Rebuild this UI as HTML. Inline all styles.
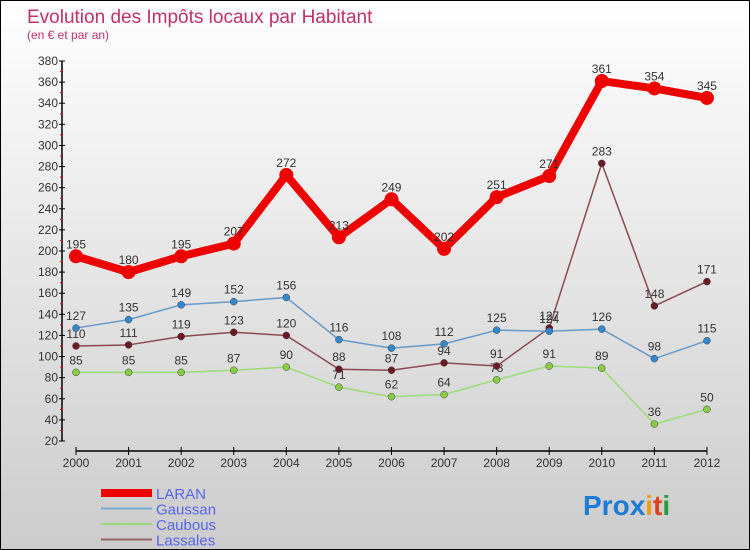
<!DOCTYPE html>
<html><head><meta charset="utf-8"><style>
body{margin:0}
#c{width:748px;height:548px;border:1px solid #000;background:linear-gradient(#fff,#ccc);position:relative;overflow:hidden;font-family:"Liberation Sans",sans-serif}
</style></head><body>
<div id="c">
<svg id="s" width="748" height="548" style="position:absolute;left:0;top:0">
<text x="26" y="22" font-size="19" fill="#c0306a">Evolution des Impôts locaux par Habitant</text>
<text x="26" y="38" font-size="12" fill="#c0306a">(en € et par an)</text>
<g id="axes"></g><g id="series"></g><g id="legend"></g>
<text x="582" y="514" font-size="28" font-weight="bold"><tspan fill="#1a7bd8">Pro</tspan><tspan fill="#1a7bd8">x</tspan><tspan fill="#f39a12">i</tspan><tspan fill="#e0421b">t</tspan><tspan fill="#2a9a3a">i</tspan></text>
</svg>
</div>
<script>
const years=[2000,2001,2002,2003,2004,2005,2006,2007,2008,2009,2010,2011,2012];
const yTicks=[20,40,60,80,100,120,140,160,180,200,220,240,260,280,300,320,340,360,380];
const laran=[195,180,195,207,272,213,249,202,251,271,361,354,345];
const gaussan=[127,135,149,152,156,116,108,112,125,124,126,98,115];
const caubous=[85,85,85,87,90,71,62,64,78,91,89,36,50];
const lassales=[110,111,119,123,120,88,87,94,91,127,283,148,171];
const NS="http://www.w3.org/2000/svg";
function X(i){return 75+i*52.58;}
function Y(v){return 440-(v-20)*380/360;}
function mk(t,a,p){const e=document.createElementNS(NS,t);for(const k in a)e.setAttribute(k,a[k]);p.appendChild(e);return e;}
const ax=document.getElementById('axes');
mk('line',{x1:61,y1:Y(380),x2:61,y2:Y(20),stroke:'#000','stroke-width':1.5},ax);
mk('line',{x1:X(0),y1:450,x2:X(12),y2:450,stroke:'#000','stroke-width':1.5},ax);
yTicks.forEach(v=>{
 const t=mk('text',{x:57,y:Y(v)+4,'font-size':12,fill:'#333','text-anchor':'end'},ax);t.textContent=v;
 
 mk('line',{x1:58,y1:Y(v),x2:64,y2:Y(v),stroke:'#000'},ax);
 if(v<380)mk('line',{x1:59,y1:Y(v+10),x2:62,y2:Y(v+10),stroke:'#e00'},ax);
});
years.forEach((y,i)=>{
 mk('line',{x1:X(i),y1:446,x2:X(i),y2:454,stroke:'#000'},ax);
 const t=mk('text',{x:X(i),y:466,'font-size':12,fill:'#333','text-anchor':'middle'},ax);t.textContent=y;
 
});
const sg=document.getElementById('series');
function series(d,col,dot,w,r,name,lab,fs){
 const g=mk('g',{},sg);
 mk('polyline',{points:d.map((v,i)=>X(i)+','+Y(v)).join(' '),fill:'none',stroke:col,'stroke-width':w,'stroke-linejoin':'round'},g);
 d.forEach((v,i)=>{
  const c=mk('circle',{cx:X(i),cy:Y(v),r:r,fill:dot,stroke:dot==col?'none':'#444','stroke-width':0.5},g);
  
  const t=mk('text',{x:X(i),y:Y(v)-8,'font-size':fs,fill:'#333','text-anchor':'middle'},g);t.textContent=v;
  
 });
}
series(caubous,'#99dd77','#88cc44',1.5,3.5,'caubous');
series(lassales,'#8b4a52','#6b1a22',1.5,3.5,'lassales');
series(gaussan,'#6699cc','#3388cc',1.5,3.5,'gaussan');
series(laran,'#ee0000','#ee0000',8,7,'laran');
sg.querySelectorAll('text').forEach(t=>t.setAttribute('font-size',12));
const lg=document.getElementById('legend');
[['LARAN','#ee0000',8],['Gaussan','#77aacc',2],['Caubous','#99dd77',2],['Lassales','#996666',2]].forEach((l,i)=>{
 const y=492+i*15.5;
 const g=mk('g',{},lg);
 mk('line',{x1:100,y1:y,x2:151,y2:y,stroke:l[1],'stroke-width':l[2]},g);
 const t=mk('text',{x:155,y:y+6,'font-size':15,fill:'#5566ee'},g);t.textContent=l[0];
});
</script>
</body></html>
